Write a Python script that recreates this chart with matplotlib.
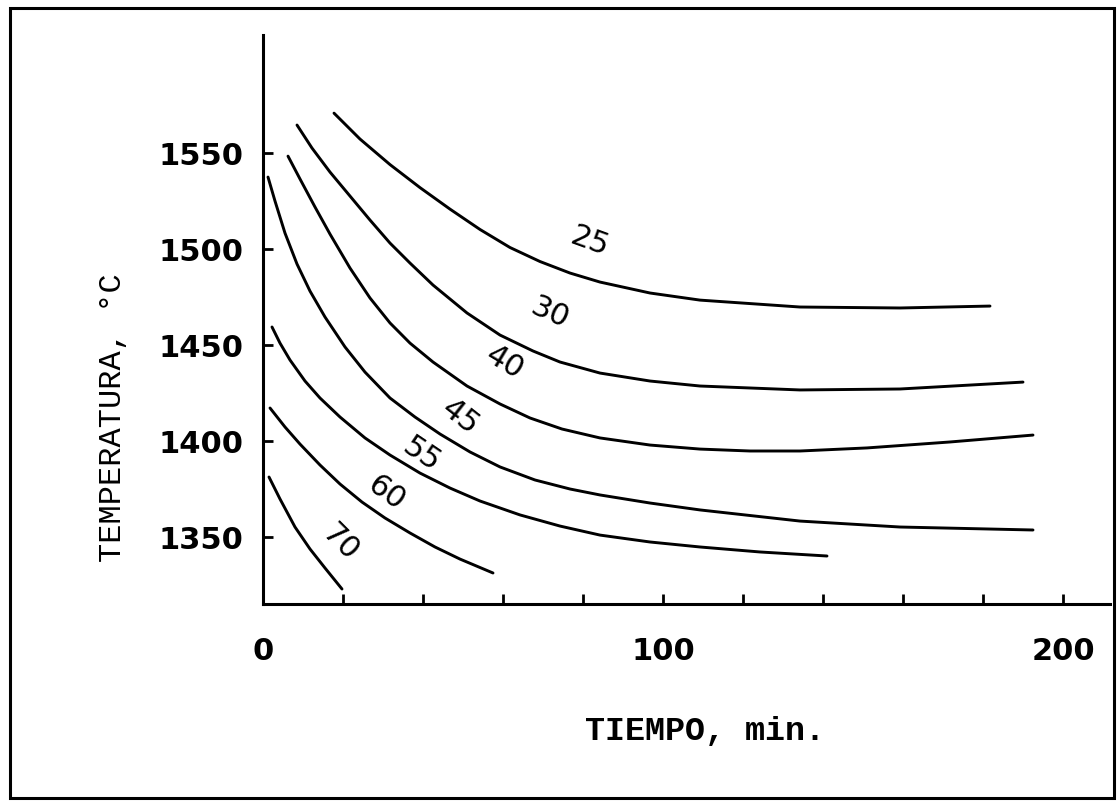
import numpy as np
import matplotlib
matplotlib.use("Agg")
import matplotlib.pyplot as plt
from matplotlib.patches import Rectangle

# curves: time (min) and temperature (degC)
t_25 = [17.75, 24.25, 31.75, 39.25, 46.75, 54.25, 61.75, 69.25, 76.75, 84.25, 96.75, 109.25, 134.25, 159.25, 181.75]
T_25 = [1570.8, 1557.3, 1544.0, 1532.0, 1520.8, 1510.2, 1500.8, 1493.5, 1487.5, 1482.8, 1477.1, 1473.4, 1469.8, 1469.3, 1470.3]

t_30 = [8.5, 12.25, 16.75, 21.75, 26.75, 31.75, 36.75, 42.5, 51.0, 59.25, 67.5, 74.25, 84.25, 96.75, 109.25, 134.25, 159.25, 190.0]
T_30 = [1564.6, 1552.6, 1540.1, 1527.6, 1515.1, 1503.1, 1492.7, 1481.25, 1466.7, 1455.2, 1446.9, 1441.15, 1435.4, 1431.25, 1428.65, 1426.6, 1427.1, 1430.7]

t_40 = [6.25, 9.25, 13.0, 16.75, 21.75, 26.75, 31.75, 36.75, 42.5, 51.0, 59.25, 66.75, 74.75, 84.25, 96.75, 109.25, 121.75, 134.25, 151.0, 171.75, 192.5]
T_40 = [1548.4, 1536.5, 1521.9, 1507.8, 1490.1, 1474.5, 1461.5, 1451.0, 1441.15, 1428.65, 1419.3, 1412.0, 1406.25, 1401.6, 1397.9, 1395.8, 1394.8, 1394.8, 1396.4, 1399.5, 1403.1]

t_45 = [1.25, 3.0, 5.5, 8.5, 11.75, 15.5, 20.5, 25.5, 31.75, 38.0, 44.25, 51.75, 59.25, 68.0, 76.75, 84.25, 96.75, 109.25, 134.25, 159.25, 192.5]
T_45 = [1537.5, 1525.0, 1508.3, 1492.2, 1478.1, 1464.6, 1449.0, 1435.9, 1422.4, 1412.5, 1403.65, 1394.3, 1386.5, 1379.7, 1375.0, 1371.9, 1367.7, 1364.1, 1358.3, 1355.2, 1353.65]

t_55 = [2.25, 4.25, 6.75, 10.5, 14.25, 19.25, 25.5, 31.75, 39.25, 46.75, 54.25, 64.25, 74.25, 84.25, 96.75, 109.25, 124.25, 141.0]
T_55 = [1459.4, 1451.0, 1442.2, 1431.25, 1422.4, 1412.5, 1401.6, 1392.7, 1383.3, 1375.5, 1368.75, 1361.5, 1355.7, 1351.0, 1347.4, 1344.8, 1342.2, 1340.1]

t_60 = [1.75, 5.5, 9.25, 14.25, 19.25, 24.75, 30.5, 36.75, 43.0, 49.25, 57.5]
T_60 = [1417.2, 1407.3, 1398.4, 1387.5, 1377.6, 1368.2, 1359.9, 1352.1, 1344.8, 1338.5, 1331.25]

t_70 = [1.5, 4.25, 8.0, 11.75, 15.5, 19.75]
T_70 = [1381.25, 1369.8, 1355.2, 1343.75, 1333.85, 1322.9]

curve_labels = ["25", "30", "40", "45", "55", "60", "70"]
label_t = [81.75, 71.75, 60.5, 49.25, 39.75, 31.0, 19.25]
label_T = [1503.6, 1466.7, 1440.6, 1412.5, 1392.7, 1372.9, 1346.9]
label_rot = [-20, -24, -31, -38, -34, -36, -45]

fig = plt.figure(figsize=(11.18, 8.01), dpi=100)
fig.patch.set_facecolor("white")

# frame around the whole scan
fig.patches.append(Rectangle((10 / 1118, 3 / 801), 1104 / 1118, 790 / 801,
                             transform=fig.transFigure, fill=False,
                             edgecolor="black", linewidth=2.2))

ax = fig.add_axes([263 / 1118, 1 - 604 / 801, 847 / 1118, 569 / 801])
ax.set_xlim(0, 211.75)
ax.set_ylim(1315.1, 1611.5)

for tt, TT in [(t_25, T_25), (t_30, T_30), (t_40, T_40), (t_45, T_45),
               (t_55, T_55), (t_60, T_60), (t_70, T_70)]:
    ax.plot(tt, TT, color="black", linewidth=2.1,
            solid_capstyle="round", solid_joinstyle="round")

for lab, x, y, r in zip(curve_labels, label_t, label_T, label_rot):
    ax.text(x, y, lab, rotation=r, ha="center", va="center",
            fontsize=22, family="DejaVu Sans")

ax.spines["top"].set_visible(False)
ax.spines["right"].set_visible(False)
ax.spines["left"].set_linewidth(2.2)
ax.spines["bottom"].set_linewidth(2.2)

ax.set_xticks([0, 100, 200])
ax.set_xticks(np.arange(20, 220, 20), minor=True)
ax.set_yticks([1350, 1400, 1450, 1500, 1550])
ax.tick_params(axis="x", which="both", direction="in", length=7, width=2,
               pad=24, labelsize=22)
ax.tick_params(axis="y", which="both", direction="in", length=7, width=2,
               pad=14, labelsize=22)
for lbl in ax.get_xticklabels() + ax.get_yticklabels():
    lbl.set_fontweight("bold")

fig.text(705 / 1118, 1 - 732 / 801, "TIEMPO, min.", ha="center", va="center",
         fontsize=24, family="Liberation Mono", fontweight="bold")
fig.text(113 / 1118, 1 - 418 / 801, "TEMPERATURA, °C", ha="center", va="center",
         rotation=90, fontsize=23, family="Liberation Mono")

fig.savefig("out.png", dpi=100, facecolor="white")
